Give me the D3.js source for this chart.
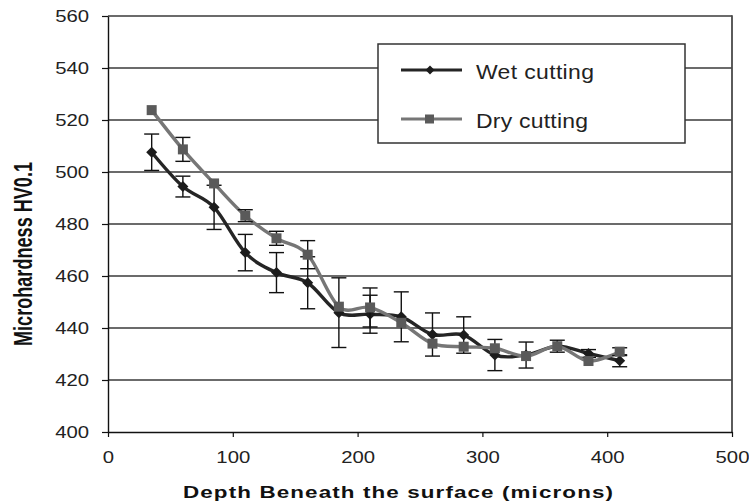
<!DOCTYPE html>
<html><head><meta charset="utf-8">
<script src="https://cdn.jsdelivr.net/npm/d3@7"></script>
<style>
html,body{margin:0;padding:0;background:#fff;}
svg{display:block;font-family:"Liberation Sans",Arial,sans-serif;}
</style></head>
<body>
<svg id="chart" width="749" height="503"></svg>
<script>
// ---- data ----
const depth   = [35, 60, 85, 110, 135, 160, 185, 210, 235, 260, 285, 310, 335, 360, 385, 410];
const wet     = [507.6, 494.4, 486.4, 469.0, 461.3, 457.4, 445.9, 445.3, 444.3, 437.5, 437.3, 429.6, 429.6, 433.0, 430.2, 427.4];
const wetErr  = [7.0, 4.0, 8.5, 7.0, 7.7, 10.0, 13.4, 7.3, 9.6, 8.3, 7.0, 6.0, 5.0, 2.3, 1.5, 2.3];
const dry     = [523.8, 508.7, 495.6, 483.2, 474.5, 468.2, 448.2, 447.9, 442.0, 434.0, 432.8, 432.2, 429.2, 433.0, 427.3, 430.9];
const dryErr  = [0, 4.6, 0, 2.3, 2.7, 5.4, 0, 7.5, 0, 0, 0, 0, 0, 0, 0, 1.5];
const xTicks  = [0, 100, 200, 300, 400, 500];
const yTicks  = [400, 420, 440, 460, 480, 500, 520, 540, 560];
const seriesNames = ["Wet cutting", "Dry cutting"];
const xTitle = "Depth Beneath the surface (microns)";
const yTitle = "Microhardness HV0.1";

// ---- layout ----
const L = 108, R = 732, T = 16, B = 432;
const svg = d3.select("#chart");
const x = d3.scaleLinear().domain([0, 500]).range([L, R]);
const y = d3.scaleLinear().domain([400, 560]).range([B, T]);

// gridlines
svg.append("g").selectAll("line").data(yTicks.filter(v => v > 400)).join("line")
  .attr("x1", L).attr("x2", R).attr("y1", d => y(d)).attr("y2", d => y(d))
  .attr("stroke", "#3a3a3a").attr("stroke-width", 1.4);
// right border
svg.append("line").attr("x1", R).attr("x2", R).attr("y1", T - 0.7).attr("y2", B)
  .attr("stroke", "#4a4a4a").attr("stroke-width", 1.8);

// axes
const yAxis = svg.append("g").attr("transform", `translate(${L},0)`)
  .call(d3.axisLeft(y).tickValues(yTicks).tickSize(6).tickSizeOuter(0));
yAxis.select(".domain").attr("stroke", "#111").attr("stroke-width", 1.4);
yAxis.selectAll(".tick line").attr("stroke", "#111").attr("stroke-width", 1.2);
yAxis.selectAll(".tick text").attr("x", 0).attr("dy", "0.35em")
  .attr("transform", "translate(-19,0) scale(1.27,1)")
  .attr("font-size", 16).attr("fill", "#222").attr("font-family", "Liberation Sans, Arial, sans-serif");

const xAxis = svg.append("g").attr("transform", `translate(0,${B})`)
  .call(d3.axisBottom(x).tickValues(xTicks).tickSize(5).tickSizeOuter(0));
xAxis.select(".domain").attr("stroke", "#111").attr("stroke-width", 1.4);
xAxis.selectAll(".tick line").attr("stroke", "#111").attr("stroke-width", 1.2);
xAxis.selectAll(".tick text").attr("y", 0).attr("dy", 0)
  .attr("transform", "translate(0,31) scale(1.27,1)")
  .attr("font-size", 16).attr("fill", "#222").attr("font-family", "Liberation Sans, Arial, sans-serif");

// titles
svg.append("text").attr("transform", "translate(398,498) scale(1.4,1)")
  .attr("text-anchor", "middle").attr("font-weight", "bold").attr("font-size", 16)
  .attr("fill", "#111").attr("textLength", 430 / 1.4).attr("lengthAdjust", "spacing")
  .text(xTitle);
svg.append("text").attr("transform", "translate(31.5,254) rotate(-90) scale(1,1.5)")
  .attr("text-anchor", "middle").attr("font-weight", "bold").attr("font-size", 17)
  .attr("fill", "#111").attr("textLength", 184).attr("lengthAdjust", "spacingAndGlyphs")
  .text(yTitle);

// series
const curve = d3.curveCatmullRom.alpha(0);
const lineGen = d3.line().x(d => x(d[0])).y(d => y(d[1])).curve(curve);
const diamond = (cx, cy, w, h) => `M${cx},${cy - h}L${cx + w},${cy}L${cx},${cy + h}L${cx - w},${cy}Z`;

function drawSeries(vals, errs, lineColor, markColor, kind) {
  const pts = depth.map((d, i) => [d, vals[i], errs[i]]);
  const g = svg.append("g");
  g.append("path").datum(pts).attr("d", lineGen).attr("fill", "none")
    .attr("stroke", lineColor).attr("stroke-width", 3.4).attr("stroke-linejoin", "round");
  const eb = g.append("g").selectAll("g").data(pts.filter(p => p[2] > 0)).join("g")
    .attr("stroke", "#111").attr("stroke-width", 1.4);
  eb.append("line").attr("x1", d => x(d[0])).attr("x2", d => x(d[0]))
    .attr("y1", d => y(d[1] + d[2])).attr("y2", d => y(d[1] - d[2]));
  eb.append("line").attr("x1", d => x(d[0]) - 7.5).attr("x2", d => x(d[0]) + 7.5)
    .attr("y1", d => y(d[1] + d[2])).attr("y2", d => y(d[1] + d[2]));
  eb.append("line").attr("x1", d => x(d[0]) - 7.5).attr("x2", d => x(d[0]) + 7.5)
    .attr("y1", d => y(d[1] - d[2])).attr("y2", d => y(d[1] - d[2]));
  if (kind === "diamond") {
    g.append("g").selectAll("path").data(pts).join("path")
      .attr("d", d => diamond(x(d[0]), y(d[1]), 5.5, 5.5)).attr("fill", markColor);
  } else {
    g.append("g").selectAll("rect").data(pts).join("rect")
      .attr("x", d => x(d[0]) - 5).attr("y", d => y(d[1]) - 5)
      .attr("width", 10).attr("height", 10).attr("fill", markColor);
  }
}
drawSeries(wet, wetErr, "#252525", "#1c1c1c", "diamond");
drawSeries(dry, dryErr, "#767676", "#5a5a5a", "square");

// legend
const lg = svg.append("g");
lg.append("rect").attr("x", 378).attr("y", 44).attr("width", 307).attr("height", 99)
  .attr("fill", "#fff").attr("stroke", "#333").attr("stroke-width", 1.5);
const legY = [70, 119];
const legColors = ["#252525", "#767676"];
const legMark = ["#1c1c1c", "#5a5a5a"];
const legLen = [118, 112];
seriesNames.forEach((name, i) => {
  lg.append("line").attr("x1", 401).attr("x2", 462).attr("y1", legY[i]).attr("y2", legY[i])
    .attr("stroke", legColors[i]).attr("stroke-width", 3.2);
  if (i === 0) {
    lg.append("path").attr("d", diamond(430, legY[i], 4.5, 4.5)).attr("fill", legMark[i]);
  } else {
    lg.append("rect").attr("x", 425).attr("y", legY[i] - 4.5).attr("width", 9).attr("height", 9).attr("fill", legMark[i]);
  }
  lg.append("text").attr("transform", `translate(476,${legY[i] + 8.5}) scale(1.12,1)`)
    .attr("font-size", 20.5).attr("fill", "#222")
    .attr("textLength", legLen[i] / 1.12).attr("lengthAdjust", "spacing")
    .text(name);
});
</script>
</body></html>
